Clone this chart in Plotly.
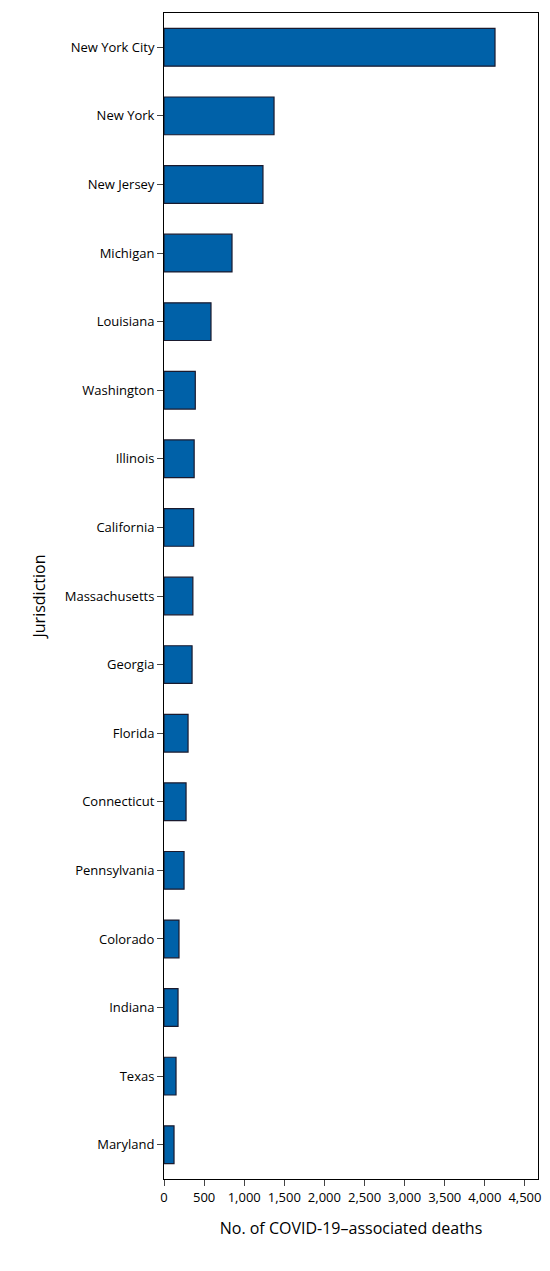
import plotly.graph_objects as go

jurisdictions = ["New York City","New York","New Jersey","Michigan","Louisiana","Washington",
                 "Illinois","California","Massachusetts","Georgia","Florida","Connecticut",
                 "Pennsylvania","Colorado","Indiana","Texas","Maryland"]
deaths = [4127,1372,1234,848,586,390,376,370,360,350,300,275,250,187,175,150,125]
tick_vals = [0,500,1000,1500,2000,2500,3000,3500,4000,4500]
tick_text = ["0","500","1,000","1,500","2,000","2,500","3,000","3,500","4,000","4,500"]

fig = go.Figure(go.Bar(
    x=deaths, y=jurisdictions, orientation="h", width=0.55,
    marker=dict(color="#0061a8", line=dict(color="#1a1a2e", width=1.2))))

fig.update_layout(
    width=550, height=1271, margin=dict(l=156, r=20, t=5, b=100),
    plot_bgcolor="white", paper_bgcolor="white", showlegend=False,
    font=dict(family="Open Sans, Liberation Sans", size=13, color="black"),
    xaxis=dict(range=[0,4663], tickvals=tick_vals, ticktext=tick_text, showgrid=False,
               showline=True, linecolor="black", mirror=True, ticks="outside", ticklen=6,
               title=dict(text="No. of COVID-19–associated deaths", standoff=18),
               zeroline=False, automargin=False),
    yaxis=dict(categoryorder="array", categoryarray=jurisdictions[::-1],
               showline=True, linecolor="black", mirror=True, ticks="outside", ticklen=6,
               showgrid=False, automargin=False,
               title=dict(text="Jurisdiction", standoff=15)),
)
fig.write_html("out.html")
